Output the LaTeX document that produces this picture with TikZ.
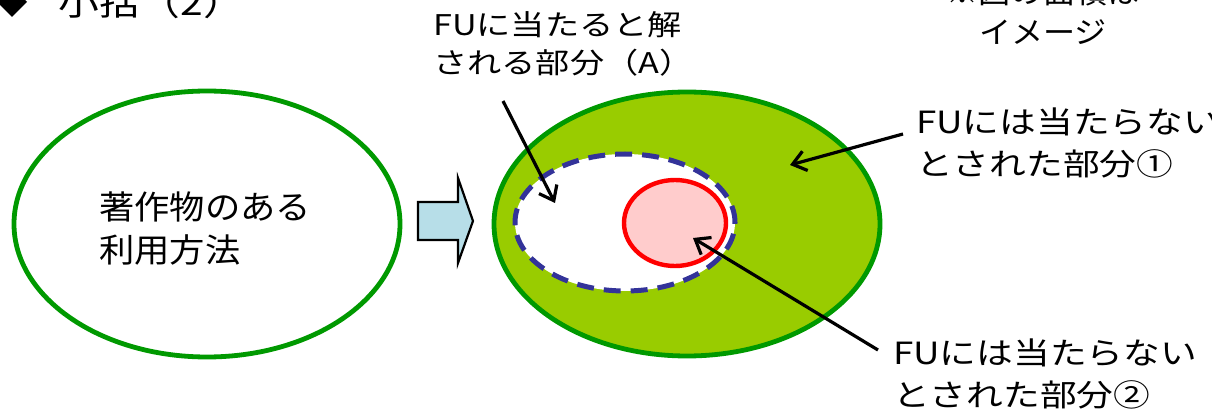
\documentclass[tikz,border=0pt]{standalone}
\usepackage{fontspec}
\setmainfont{Noto Sans CJK JP}
\newfontfamily\jpa[FakeStretch=1.2]{Noto Sans CJK JP}
\newfontfamily\jpb[FakeStretch=1.07]{Noto Sans CJK JP}
\usetikzlibrary{arrows.meta,shapes.geometric}
\definecolor{lgreen}{HTML}{99CC00}
\definecolor{dgreen}{HTML}{009900}
\definecolor{navyd}{HTML}{333399}
\definecolor{pinkf}{HTML}{FFCCCC}
\definecolor{cyanf}{HTML}{B7DEE8}
\tikzset{
  ell/.style={ellipse, inner sep=0pt, draw=dgreen, line width=4.8pt},
  lbl/.style={inner sep=0pt, align=left, font=\jpa\fontsize{30.6}{42}\selectfont},
  callout/.style={line width=3.2pt, -{Straight Barb[length=13pt,width=20pt,line width=3.2pt]}},
}
\begin{document}
\begin{tikzpicture}[x=1pt,y=-1pt]
\useasboundingbox (0,0) rectangle (1212,414);
% title and note (cut off at top)
\fill (12,-13) -- (27,2) -- (12,17) -- (-3,2) -- cycle;
\node[inner sep=0pt, anchor=base west, font=\jpa\fontsize{34}{40}\selectfont] (title) at (58,16) {小括（2）};
\node[inner sep=0pt, align=center, anchor=base, font=\jpb\fontsize{30}{40}\selectfont] (note) at (1043,44) {※図の面積は\\イメージ};
% left ellipse
\node[ell, fill=white, minimum width=386pt, minimum height=266pt] (use) at (207,224) {};
\node[inner sep=0pt, align=left, anchor=base west, font=\jpb\fontsize{33}{43}\selectfont] (usetxt) at (99,262) {著作物のある\\利用方法};
% block arrow
\draw[fill=cyanf, line width=2.2pt, line join=miter] (418,202) -- (458,202) -- (458,178) -- (473,221) -- (458,263) -- (458,240) -- (418,240) -- cycle;
% right sets
\node[ell, fill=lgreen, minimum width=386pt, minimum height=264pt] (all) at (687,224) {};
\node[ellipse, inner sep=0pt, fill=white, draw=navyd, line width=5pt, dash pattern=on 17pt off 10pt, minimum width=220pt, minimum height=137pt] (fu) at (625,222.5) {};
\node[ellipse, inner sep=0pt, fill=pinkf, draw=red, line width=4.4pt, minimum width=102pt, minimum height=86pt] (two) at (675,223) {};
% labels
\node[lbl, anchor=base west, font=\jpa\fontsize{28.5}{38}\selectfont] (la) at (433,74) {FUに当たると解\\される部分（A）};
\node[lbl, anchor=base west] (l1) at (916,176) {FUには当たらない\\とされた部分①};
\node[lbl, anchor=base west] (l2) at (893,406) {FUには当たらない\\とされた部分②};
% callout arrows
\coordinate (ta) at (503,101);
\coordinate (ha) at (555,203);
\coordinate (t1) at (903,134);
\coordinate (h1) at (790,165);
\coordinate (t2) at (878,350);
\coordinate (h2) at (693,238);
\draw[callout] (ta) -- (ha);
\draw[callout] (t1) -- (h1);
\draw[callout] (t2) -- (h2);
\end{tikzpicture}
\end{document}
